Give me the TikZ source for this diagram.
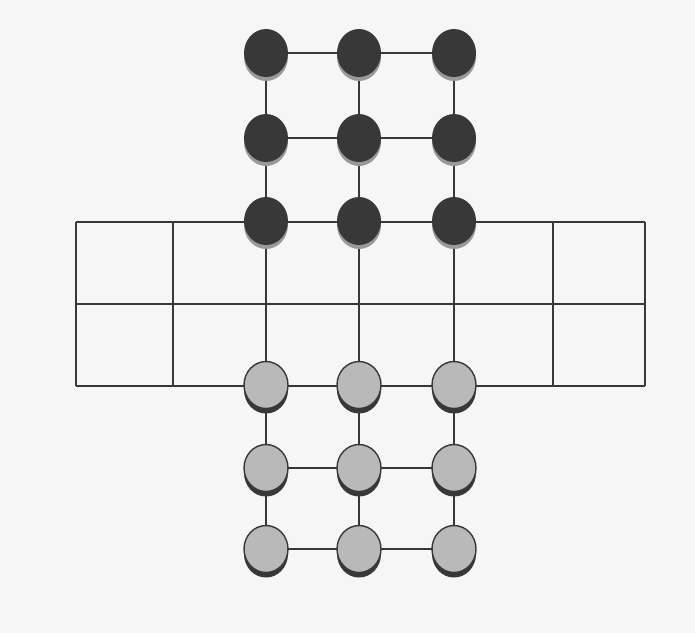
\documentclass[tikz,border=0pt]{standalone}
\usetikzlibrary{shapes.geometric,shadows}
\pgfdeclarelayer{bg}
\pgfsetlayers{bg,main}
\definecolor{paper}{HTML}{F6F6F7}
\definecolor{ink}{HTML}{383838}

\begin{document}
\begin{tikzpicture}[x=0.02cm,y=-0.02cm,line cap=round,line join=round,
    darkpiece/.style={ellipse,inner sep=0pt,minimum width=0.88cm,
      minimum height=0.96cm,fill=ink,
      general shadow={fill=gray!80,shadow yshift=-0.08cm}},
    lightpiece/.style={ellipse,inner sep=0pt,minimum width=0.88cm,
      minimum height=0.94cm,fill=gray!55,draw=ink,line width=0.8pt,
      general shadow={fill=ink,shadow yshift=-0.1cm}},
    boardline/.style={ink,line width=1.2pt}]
  \useasboundingbox (0,0) rectangle (695,633);

  % pieces
  \foreach \c [count=\i] in {266,359,454}{
    \foreach \r [count=\j] in {53,138,221}
      \node[darkpiece] (d\i\j) at (\c,\r) {};
    \foreach \r [count=\j] in {385,468,549}
      \node[lightpiece] (l\i\j) at (\c,\r) {};
  }

  % board corners
  \foreach \x [count=\k] in {76,173,553,645}{
    \coordinate (t\k) at (\x,222);
    \coordinate (m\k) at (\x,304);
    \coordinate (b\k) at (\x,386);
  }

  \begin{pgfonlayer}{bg}
    \fill[paper] (0,0) rectangle (695,633);
    \draw[boardline] (t1) -- (t4) (m1) -- (m4) (b1) -- (b4);
    \foreach \k in {1,...,4}
      \draw[boardline] (t\k) -- (b\k);
    \foreach \i in {1,2,3}
      \draw[boardline] (d\i1.center) -- (l\i3.center);
    \foreach \j in {1,2}
      \draw[boardline] (d1\j.center) -- (d2\j.center) -- (d3\j.center);
    \foreach \j in {2,3}
      \draw[boardline] (l1\j.center) -- (l2\j.center) -- (l3\j.center);
  \end{pgfonlayer}
\end{tikzpicture}
\end{document}
